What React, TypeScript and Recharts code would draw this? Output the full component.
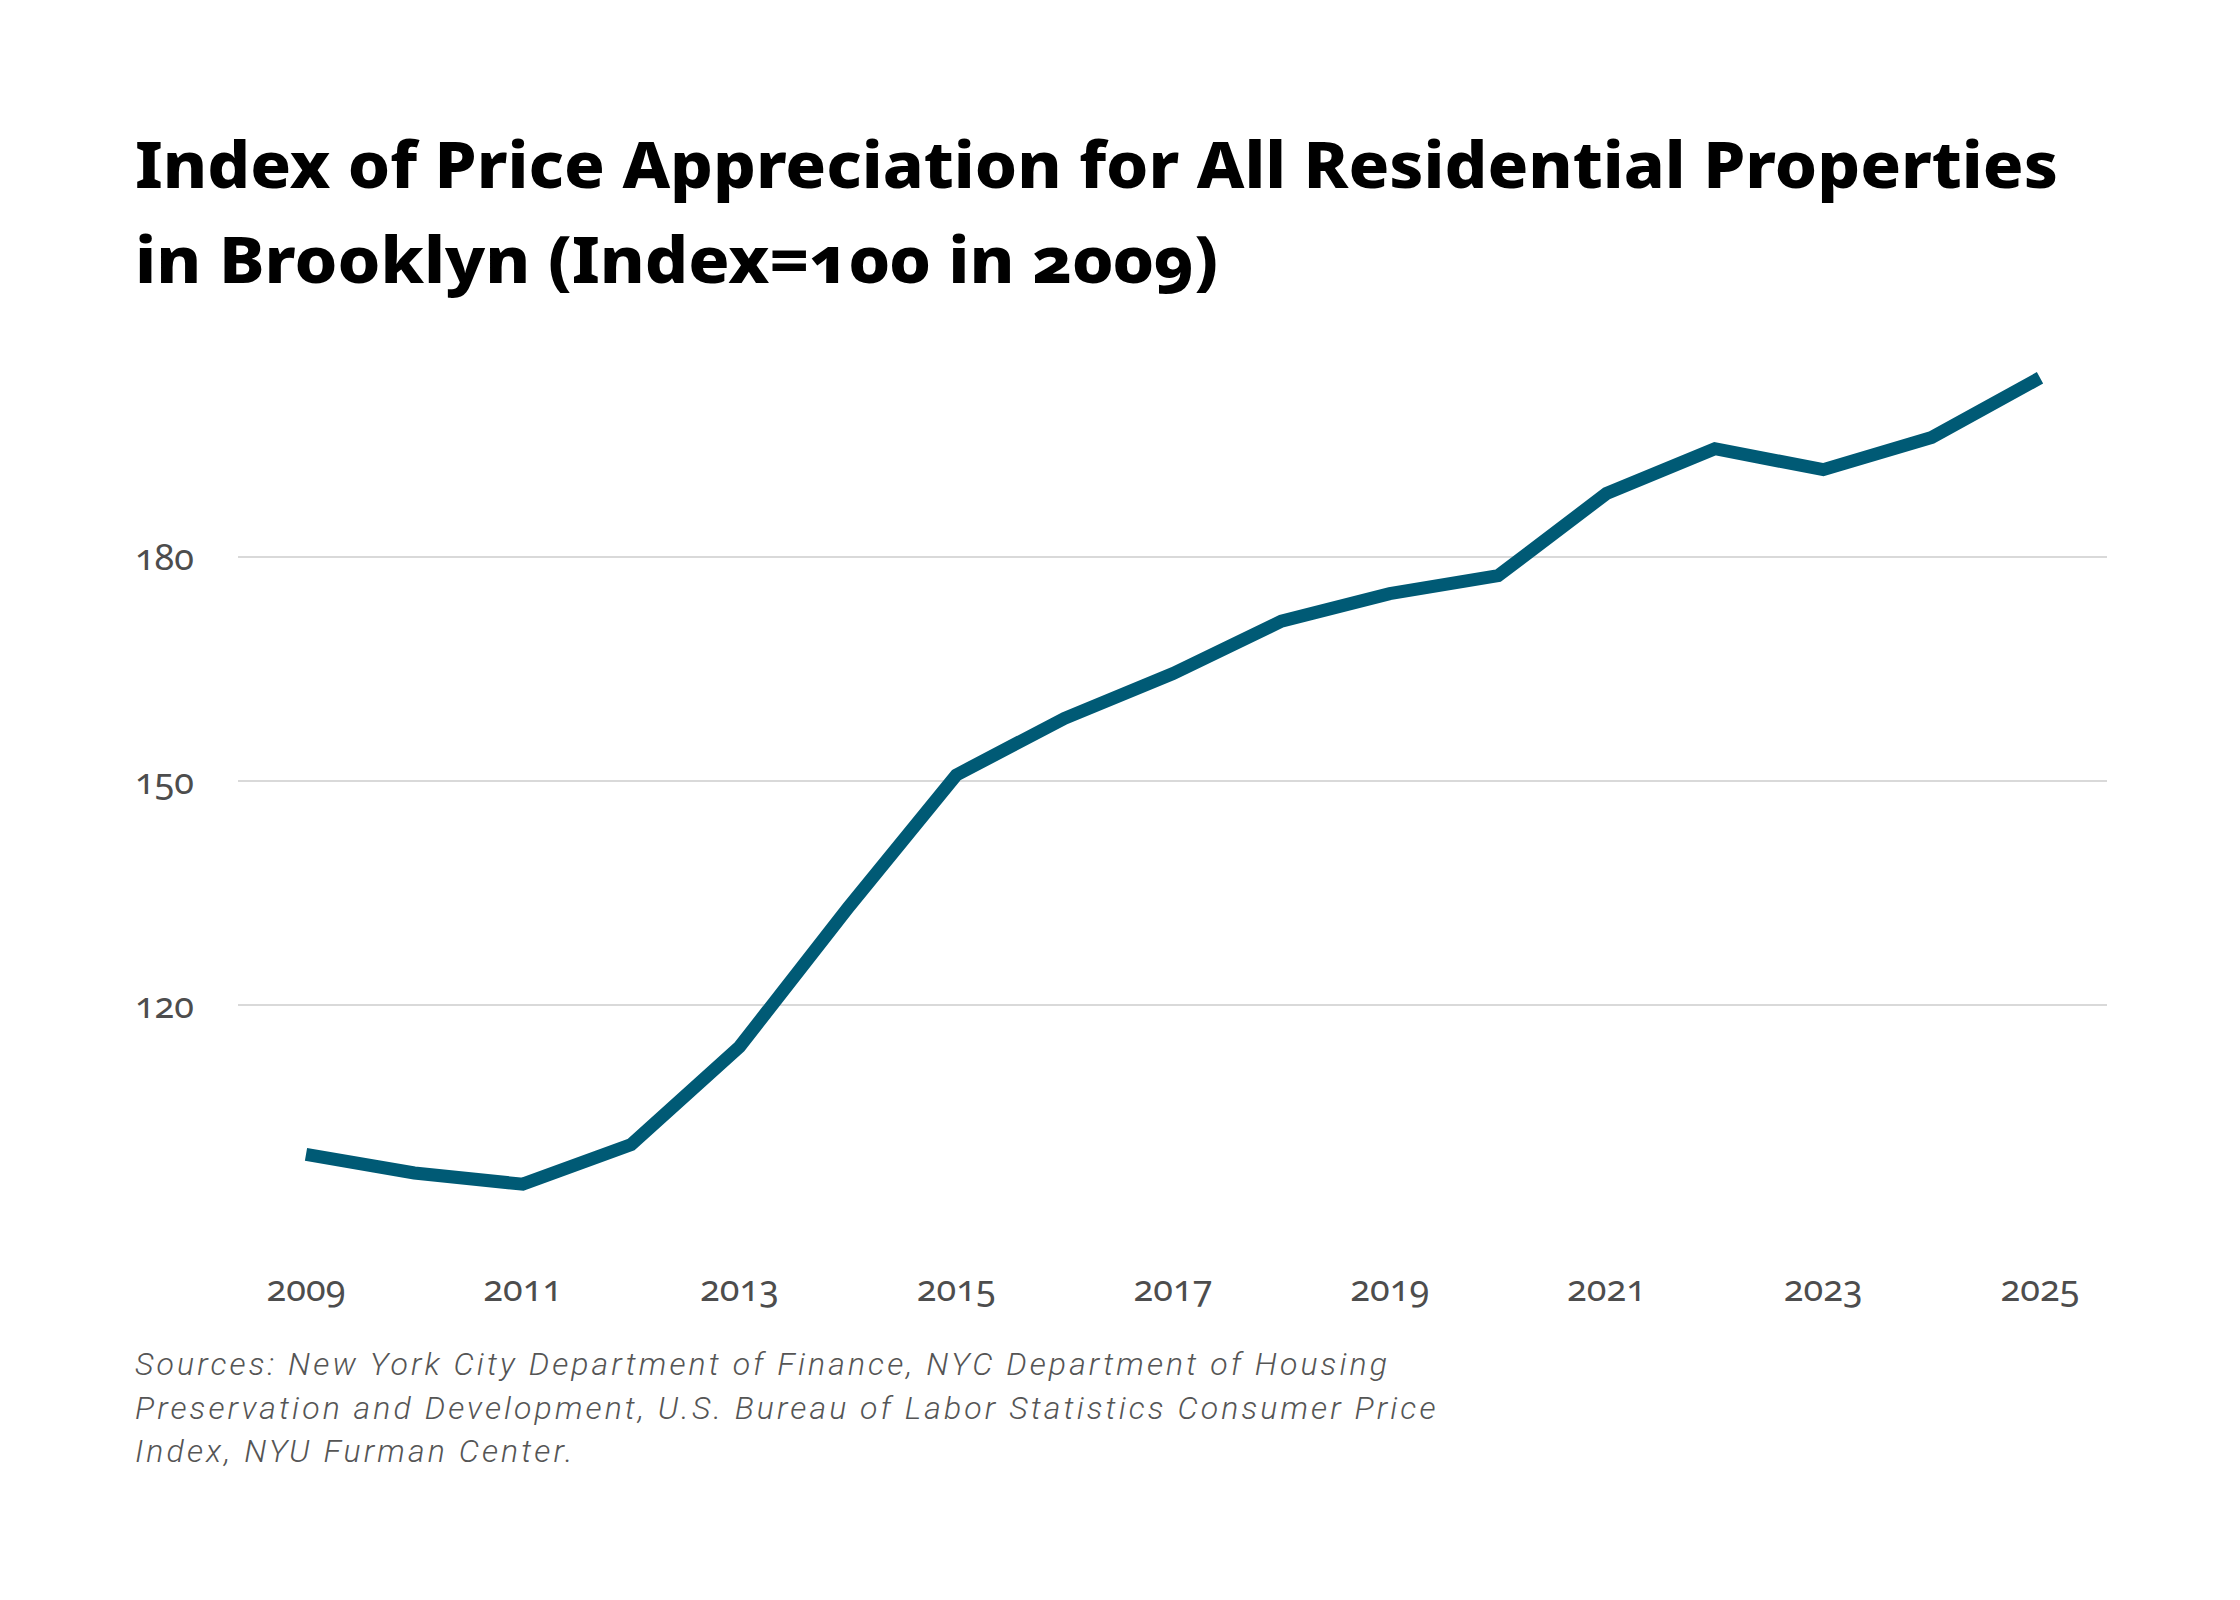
import React from "react";
import { LineChart, Line, XAxis, YAxis, ReferenceLine } from "recharts";

const years = [
  2009, 2010, 2011, 2012, 2013, 2014, 2015, 2016, 2017, 2018, 2019, 2020,
  2021, 2022, 2023, 2024, 2025,
];
const indexValues = [
  100, 97.5, 96.0, 101.3, 114.4, 133.0, 150.8, 158.4, 164.4, 171.4, 175.1,
  177.5, 188.5, 194.5, 191.7, 196.0, 204.0,
];
const xTicks = [2009, 2011, 2013, 2015, 2017, 2019, 2021, 2023, 2025];
const yTicks = [120, 150, 180];

const titleLines = [
  "Index of Price Appreciation for All Residential Properties",
  "in Brooklyn (Index=100 in 2009)",
];
const titleWidths = [1923, 1083];
const sourceLines = [
  "Sources: New York City Department of Finance, NYC Department of Housing",
  "Preservation and Development, U.S. Bureau of Labor Statistics Consumer Price",
  "Index, NYU Furman Center.",
];

const data = years.map((year, i) => ({ year, value: indexValues[i] }));

const tickStyle = {
  fontFamily: "'Noto Sans', Lato, sans-serif",
  fontSize: 36,
  fill: "#4d4d4d",
};

export default function App() {
  return (
    <div
      style={{
        position: "absolute",
        left: 0,
        top: 0,
        width: 2240,
        height: 1600,
        background: "#ffffff",
        fontVariantNumeric: "oldstyle-nums",
      }}
    >
      <LineChart
        width={2240}
        height={1600}
        data={data}
        margin={{ top: 333, right: 133, bottom: 271, left: 138 }}
      >
        {yTicks.map((v) => (
          <ReferenceLine key={v} y={v} stroke="#cccccc" strokeWidth={1.5} />
        ))}
        <XAxis
          dataKey="year"
          type="number"
          domain={[2009, 2025]}
          ticks={xTicks}
          padding={{ left: 68, right: 67 }}
          axisLine={false}
          tickLine={false}
          tickSize={0}
          tickMargin={46}
          height={100}
          tick={tickStyle}
        />
        <YAxis
          type="number"
          domain={[90, 210]}
          ticks={yTicks}
          axisLine={false}
          tickLine={false}
          tickSize={0}
          tickMargin={44}
          width={100}
          tick={tickStyle}
        />
        <Line
          type="linear"
          dataKey="value"
          stroke="#005a75"
          strokeWidth={13}
          dot={false}
          activeDot={false}
          isAnimationActive={false}
        />
      </LineChart>

      {/* title and sources sit on top of the chart */}
      <svg
        width={2240}
        height={1600}
        style={{ position: "absolute", left: 0, top: 0, pointerEvents: "none" }}
      >
        {titleLines.map((line, i) => (
          <text
            key={line}
            x={135}
            y={188 + i * 95}
            fontFamily="'Noto Sans', Lato, sans-serif"
            fontWeight={800}
            fontSize={64}
            fill="#000000"
            textLength={titleWidths[i]}
            lengthAdjust="spacingAndGlyphs"
            style={{ fontVariantLigatures: "none" }}
          >
            {line}
          </text>
        ))}
        {sourceLines.map((line, i) => (
          <text
            key={line}
            x={135}
            y={1375 + i * 43.5}
            fontFamily="Roboto, Lato, sans-serif"
            fontStyle="italic"
            fontWeight={300}
            fontSize={32}
            letterSpacing={3.1}
            fill="#555555"
          >
            {line}
          </text>
        ))}
      </svg>
    </div>
  );
}
